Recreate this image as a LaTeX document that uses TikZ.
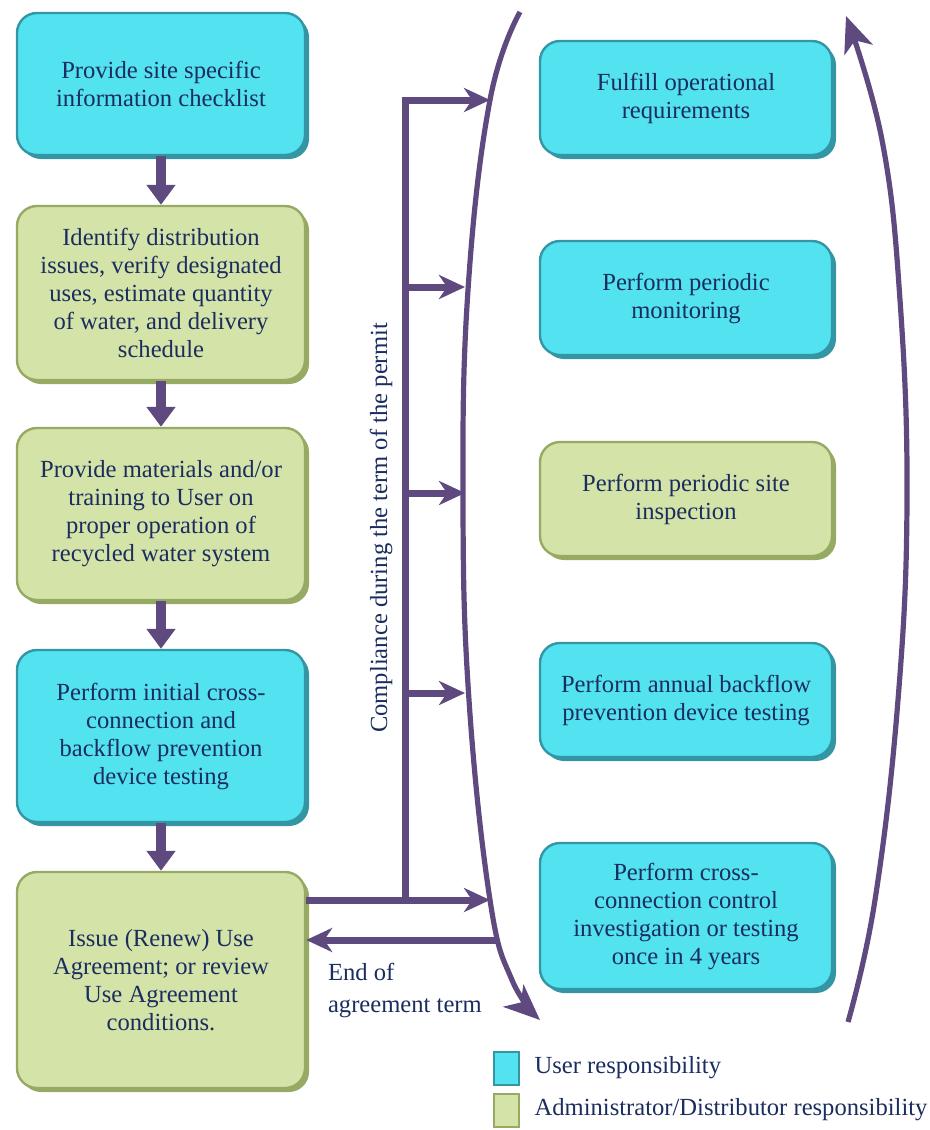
\documentclass[tikz,border=0pt]{standalone}
\usepackage{fontspec}
\setmainfont{Liberation Serif}
\usetikzlibrary{arrows.meta,positioning,shadows}

\definecolor{usercyan}{RGB}{82,226,240}
\definecolor{userdark}{RGB}{52,150,165}
\definecolor{adminolive}{RGB}{212,228,168}
\definecolor{admindark}{RGB}{150,170,100}
\definecolor{flowpurple}{RGB}{94,74,126}
\definecolor{navytext}{RGB}{27,45,95}

\tikzset{
  txt/.style={text=navytext, font=\fontsize{12.3}{14}\selectfont},
  box/.style={txt, rounded corners=10pt, align=center, line width=1.2pt},
  userbox/.style={box, fill=usercyan, draw=userdark,
    general shadow={fill=userdark, shadow xshift=2pt, shadow yshift=-2pt}},
  adminbox/.style={box, fill=adminolive, draw=admindark,
    general shadow={fill=admindark, shadow xshift=2pt, shadow yshift=-2pt}},
  flow/.style={flowpurple, line width=5pt, -{Triangle[width=14pt,length=10pt]}},
  branch/.style={flowpurple, line width=3.5pt, -{Stealth[width=12pt,length=13pt,inset=4pt]}},
  cycle/.style={flowpurple, line width=2.6pt, -{Stealth[width=15pt,length=18pt,inset=5pt]}},
  legbox/.style={minimum width=12.5pt, minimum height=16.5pt, inner sep=0pt, line width=1pt},
}

\begin{document}
\begin{tikzpicture}[x=0.5pt, y=-0.5pt]

\useasboundingbox (0,0) rectangle (930,1130);

% Parameters
\def\wL{144pt}  % width of left boxes
\def\wR{146pt}  % width of right boxes

% Left column
\node[userbox, minimum width=\wL, minimum height=71pt] (b1) at (161,84)
  {Provide site specific\\information checklist};
\node[adminbox, minimum width=\wL, minimum height=87pt] (b2) at (161,293)
  {Identify distribution\\issues, verify designated\\uses, estimate quantity\\of water, and delivery\\schedule};
\node[adminbox, minimum width=\wL, minimum height=86pt] (b3) at (161,514)
  {Provide materials and/or\\training to User on\\proper operation of\\recycled water system};
\node[userbox, minimum width=\wL, minimum height=86pt] (b4) at (161,736)
  {Perform initial cross-\\connection and\\backflow prevention\\device testing};
\node[adminbox, minimum width=\wL, minimum height=108pt] (b5) at (161,980)
  {Issue (Renew) Use\\Agreement; or review\\Use Agreement\\conditions.};

% Right column
\node[userbox, minimum width=\wR, minimum height=57pt] (r1) at (686,98)
  {Fulfill operational\\requirements};
\node[userbox, minimum width=\wR, minimum height=57pt] (r2) at (686,298)
  {Perform periodic\\monitoring};
\node[adminbox, minimum width=\wR, minimum height=57pt] (r3) at (686,499)
  {Perform periodic site\\inspection};
\node[userbox, minimum width=\wR, minimum height=57pt] (r4) at (686,700)
  {Perform annual backflow\\prevention device testing};
\node[userbox, minimum width=\wR, minimum height=73pt] (r5) at (686,916)
  {Perform cross-\\connection control\\investigation or testing\\once in 4 years};

% Steps down the left column
\foreach \a/\b in {b1/b2, b2/b3, b3/b4, b4/b5}
  \draw[flow] (\a) -- (\b);

% Trunk with branches
\coordinate (trunkTop) at (405,100);
\coordinate (trunkBot) at (405,900);
\coordinate (tipTop) at (490,100);
\coordinate (tipBot) at (490,900);
\draw[branch] (b5.east |- tipBot) -- (tipBot);
\draw[branch] (trunkBot) -- (trunkTop) -- (tipTop);
\foreach \y/\n in {287/a, 493/b, 693/c} {
  \coordinate (tap\n) at (405,\y);
  \coordinate (tip\n) at (465,\y);
  \draw[branch] (tap\n) -- (tip\n);
}

% Back to the agreement
\coordinate (ret) at (497,940);
\draw[branch] (ret) -- (b5.east |- ret);
\node[txt, anchor=west, align=left, font=\fontsize{12.3}{16}\selectfont]
  (endterm) at (321,990) {End of\\agreement term};

% Label along the trunk
\node[txt, rotate=90] (compl) at (381,528) {Compliance during the term of the permit};

% Cycle brackets
\draw[cycle] plot[smooth, tension=0.7] coordinates
  {(520,12) (490,100) (468,290) (463,500) (469,700) (490,900) (512,980) (540,1020)};
\draw[cycle] plot[smooth, tension=0.7] coordinates
  {(848,1022) (875,900) (898,700) (907,500) (900,300) (882,140) (846,16)};

% Legend
\node[legbox, fill=usercyan, draw=userdark] (legU) at (506,1068) {};
\node[legbox, fill=adminolive, draw=admindark] (legA) at (506,1110) {};
\node[txt, right=4pt of legU] (legUt) {User responsibility};
\node[txt, right=4pt of legA] (legAt) {Administrator/Distributor responsibility};

\end{tikzpicture}
\end{document}
